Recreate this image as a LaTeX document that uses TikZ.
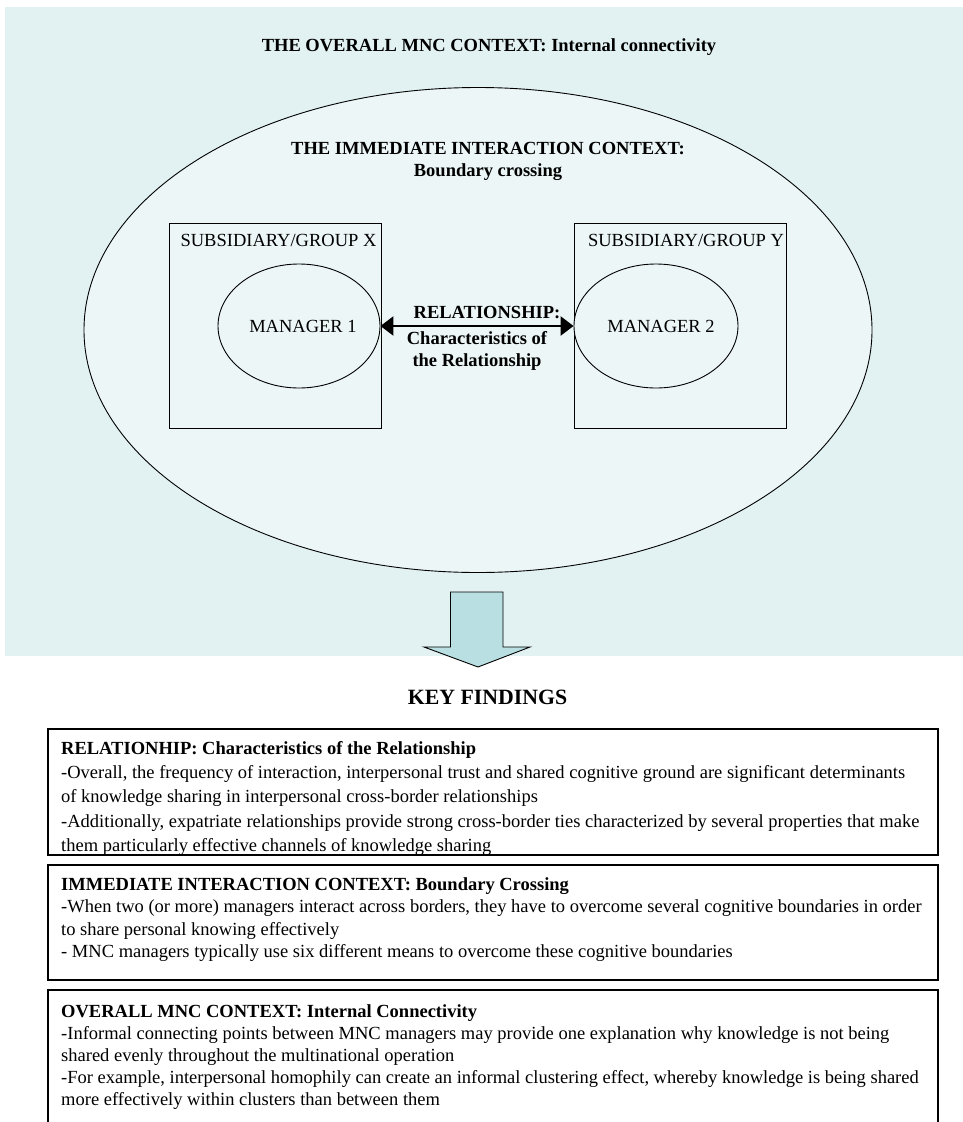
\documentclass[tikz,border=0pt]{standalone}
\usepackage{fontspec}
\setmainfont{Liberation Serif}
\usetikzlibrary{shapes.geometric,arrows.meta}
\definecolor{panelbg}{HTML}{E2F2F2}
\definecolor{innerbg}{HTML}{ECF6F7}
\definecolor{arrowfill}{HTML}{B9DFE2}

\begin{document}
\begin{tikzpicture}[x=1pt,y=-1pt,
  txt/.style={font=\fontsize{18.5}{22}\selectfont, inner sep=0pt},
  btxt/.style={font=\bfseries\fontsize{18.5}{22}\selectfont, inner sep=0pt, align=center},
  unitbox/.style={draw, line width=0.9pt, fill=innerbg, minimum height=205, inner sep=0pt},
  mgr/.style={ellipse, draw, line width=0.9pt, fill=innerbg, minimum height=124, inner sep=0pt},
  findbox/.style={draw, line width=1.6pt, minimum width=890, inner sep=0pt},
  findtxt/.style={anchor=north west, inner sep=0pt, align=left},
  link/.style={line width=2.6pt, {Triangle[length=13pt,width=19pt]}-{Triangle[length=13pt,width=19pt]}},
]
\useasboundingbox (0,0) rectangle (963,1122);

% overall MNC context panel
\fill[panelbg] (5,7) rectangle (963,656);
\node[btxt] (title) at (489,47) {THE OVERALL MNC CONTEXT: Internal connectivity};

% immediate interaction context
\node[ellipse, draw, line width=0.9pt, fill=innerbg, minimum width=788, minimum height=485, inner sep=0pt] (ctx) at (478,330) {};
\node[btxt] (ctxlabel) at (488,161) {THE IMMEDIATE INTERACTION CONTEXT:\\Boundary crossing};

% the two units and their managers
\node[unitbox, minimum width=211.5] (gx) at (275.25,325.5) {};
\node[unitbox, minimum width=212] (gy) at (680,325.5) {};
\node[txt] (gxlabel) at (278.5,240) {SUBSIDIARY/GROUP X};
\node[txt] (gylabel) at (686,240) {SUBSIDIARY/GROUP Y};
\node[mgr, minimum width=162] (m1) at (299,326) {};
\node[mgr, minimum width=164] (m2) at (656,326) {};
\node[txt] (m1label) at (303,326) {MANAGER 1};
\node[txt] (m2label) at (661,326) {MANAGER 2};

% relationship between the managers
\draw[link] (m1.east) -- (m2.west);
\node[btxt] (rel) at (487,313) {RELATIONSHIP:};
\node[btxt] (relsub) at (477,351) {Characteristics of\\the Relationship};

% block arrow towards the findings
\filldraw[fill=arrowfill, draw=black, line width=0.9pt]
  (450.5,592) -- (503,592) -- (503,647) -- (530,647) -- (478,667) -- (424,647) -- (450.5,647) -- cycle;

\node[font=\bfseries\fontsize{21.8}{26}\selectfont, inner sep=0pt] (key) at (487.5,697) {KEY FINDINGS};

% findings boxes
\node[findbox, minimum height=126] (f1) at (493,792) {};
\node[findbox, minimum height=115] (f2) at (493,922.5) {};
\draw[line width=1.6pt] (48,1124) -- (48,990) -- (938,990) -- (938,1124);

\node[findtxt, font=\fontsize{18.5}{24.3}\selectfont] (f1text) at (61,741) {%
\textbf{RELATIONHIP: Characteristics of the Relationship}\\
-Overall, the frequency of interaction, interpersonal trust and shared cognitive ground are significant determinants\\
of knowledge sharing in interpersonal cross-border relationships\\
-Additionally, expatriate relationships provide strong cross-border ties characterized by several properties that make\\
them particularly effective channels of knowledge sharing};

\node[findtxt, font=\fontsize{18.5}{22.6}\selectfont] (f2text) at (61,877) {%
\textbf{IMMEDIATE INTERACTION CONTEXT: Boundary Crossing}\\
-When two (or more) managers interact across borders, they have to overcome several cognitive boundaries in order\\
to share personal knowing effectively\\
- MNC managers typically use six different means to overcome these cognitive boundaries};

\node[findtxt, font=\fontsize{18.5}{22}\selectfont] (f3text) at (61,1004) {%
\textbf{OVERALL MNC CONTEXT: Internal Connectivity}\\
-Informal connecting points between MNC managers may provide one explanation why knowledge is not being\\
shared evenly throughout the multinational operation\\
-For example, interpersonal homophily can create an informal clustering effect, whereby knowledge is being shared\\
more effectively within clusters than between them};
\end{tikzpicture}
\end{document}
